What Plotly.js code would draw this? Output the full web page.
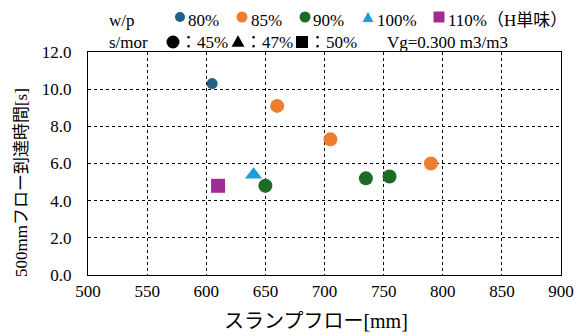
<!DOCTYPE html>
<html>
<head>
<meta charset="utf-8">
<script src="https://cdn.plot.ly/plotly-3.0.1.min.js"></script>
<style>
  html, body { margin: 0; padding: 0; background: #fff; }
  #chart { width: 577px; height: 336px; }
</style>
</head>
<body>
<div id="chart"></div>
<script>
// Slump flow [mm] and time to reach 500 mm flow [s], one series per w/p ratio
const flow80 = [605];
const time80 = [10.3];
const flow85 = [660, 705, 790];
const time85 = [9.1, 7.3, 6.0];
const flow90 = [650, 735, 755];
const time90 = [4.8, 5.2, 5.3];
const flow100 = [640];
const time100 = [5.4];
const flow110 = [610];
const time110 = [4.8];

const seriesNames = ['80%', '85%', '90%', '100%', '110%（H単味）'];
const seriesColors = ['#1f6188', '#ed7d31', '#1e6b27', '#1ba0d8', '#a02b93'];
const seriesSymbols = ['circle', 'circle', 'circle', 'triangle-up', 'square'];
const seriesX = [flow80, flow85, flow90, flow100, flow110];
const seriesY = [time80, time85, time90, time100, time110];
const markerSizes = [11, 14, 14, 15, 14];

const xTicks = [500, 550, 600, 650, 700, 750, 800, 850, 900];
const yTicks = [0, 2, 4, 6, 8, 10, 12];

const FONT = "Liberation Serif, Noto Sans CJK JP, serif";

const traces = seriesNames.map((name, i) => ({
  type: 'scatter',
  mode: 'markers',
  name: name,
  x: seriesX[i],
  y: seriesY[i],
  marker: { color: seriesColors[i], symbol: seriesSymbols[i], size: markerSizes[i], line: { width: 0 } },
  cliponaxis: false,
  hoverinfo: 'x+y'
}));

// plot frame in pixels
const L = 88, R = 561, T = 52, B = 275;
const px = x => (x - L) / (R - L);
const py = y => (B - y) / (B - T);

const ann = [];
function label(text, x, y, opts) {
  ann.push(Object.assign({
    text: text, xref: 'paper', yref: 'paper', x: px(x), y: py(y),
    xanchor: 'left', yanchor: 'middle', showarrow: false,
    font: { family: FONT, size: 17, color: '#000' }
  }, opts || {}));
}

// key: row 1 (w/p), row 2 (s/mor)
label('w/p', 107, 20);
label('80%', 186, 20);
label('85%', 249, 20);
label('90%', 311, 20);
label('100%', 375, 20);
label('110%（H単味）', 446, 20);
label('s/mor', 107, 42);
label('：45%', 178, 42);
label('：47%', 243, 42);
label('：50%', 307, 42);
label('Vg=0.300 m3/m3', 385, 42);

// axis titles
label('スランプフロー[mm]', 316, 321, { xanchor: 'center', font: { family: FONT, size: 20, color: '#000' } });
label('500mmフロー到達時間[s]', 22, 183, { xanchor: 'center', textangle: -90, font: { family: FONT, size: 17, color: '#000' } });

// key symbols
const shapes = [];
function circ(cx, cy, d, color) {
  shapes.push({ type: 'circle', xref: 'paper', yref: 'paper', xsizemode: 'pixel', ysizemode: 'pixel',
    xanchor: px(cx), yanchor: py(cy), x0: -d / 2, x1: d / 2, y0: -d / 2, y1: d / 2,
    fillcolor: color, line: { width: 0 } });
}
function sq(cx, cy, d, color) {
  shapes.push({ type: 'rect', xref: 'paper', yref: 'paper', xsizemode: 'pixel', ysizemode: 'pixel',
    xanchor: px(cx), yanchor: py(cy), x0: -d / 2, x1: d / 2, y0: -d / 2, y1: d / 2,
    fillcolor: color, line: { width: 0 } });
}
function tri(cx, cy, d, color) {
  const h = d * 0.9;
  shapes.push({ type: 'path', xref: 'paper', yref: 'paper', xsizemode: 'pixel', ysizemode: 'pixel',
    xanchor: px(cx), yanchor: py(cy),
    path: `M ${-d / 2} ${-h / 2} L ${d / 2} ${-h / 2} L 0 ${h / 2} Z`,
    fillcolor: color, line: { width: 0 } });
}
circ(180, 17, 10, seriesColors[0]);
circ(242, 17, 11, seriesColors[1]);
circ(305, 17, 11, seriesColors[2]);
tri(368, 17, 11, seriesColors[3]);
sq(439, 17, 11, seriesColors[4]);
circ(173, 42, 13, '#000');
tri(238, 41, 13, '#000');
sq(302, 42, 12, '#000');

const layout = {
  width: 577, height: 336,
  margin: { l: L, r: 577 - R, t: T, b: 336 - B },
  paper_bgcolor: '#fff', plot_bgcolor: '#fff',
  showlegend: false,
  font: { family: FONT, size: 17, color: '#000' },
  xaxis: {
    range: [500, 900], tickvals: xTicks, ticktext: xTicks.map(String),
    showgrid: true, gridcolor: '#000', gridwidth: 1, griddash: 'dot',
    showline: true, linecolor: '#000', linewidth: 1, mirror: true,
    zeroline: false, ticks: '', ticklabelstandoff: 1,
    tickfont: { family: FONT, size: 17, color: '#000' }
  },
  yaxis: {
    range: [0, 12], tickvals: yTicks, ticktext: yTicks.map(v => v.toFixed(1)),
    showgrid: true, gridcolor: '#000', gridwidth: 1, griddash: 'dot',
    showline: true, linecolor: '#000', linewidth: 1, mirror: true,
    zeroline: false, ticks: '', ticklabelstandoff: 12,
    tickfont: { family: FONT, size: 17, color: '#000' }
  },
  annotations: ann,
  shapes: shapes
};

Plotly.newPlot('chart', traces, layout, { displayModeBar: false, staticPlot: true });
</script>
</body>
</html>
